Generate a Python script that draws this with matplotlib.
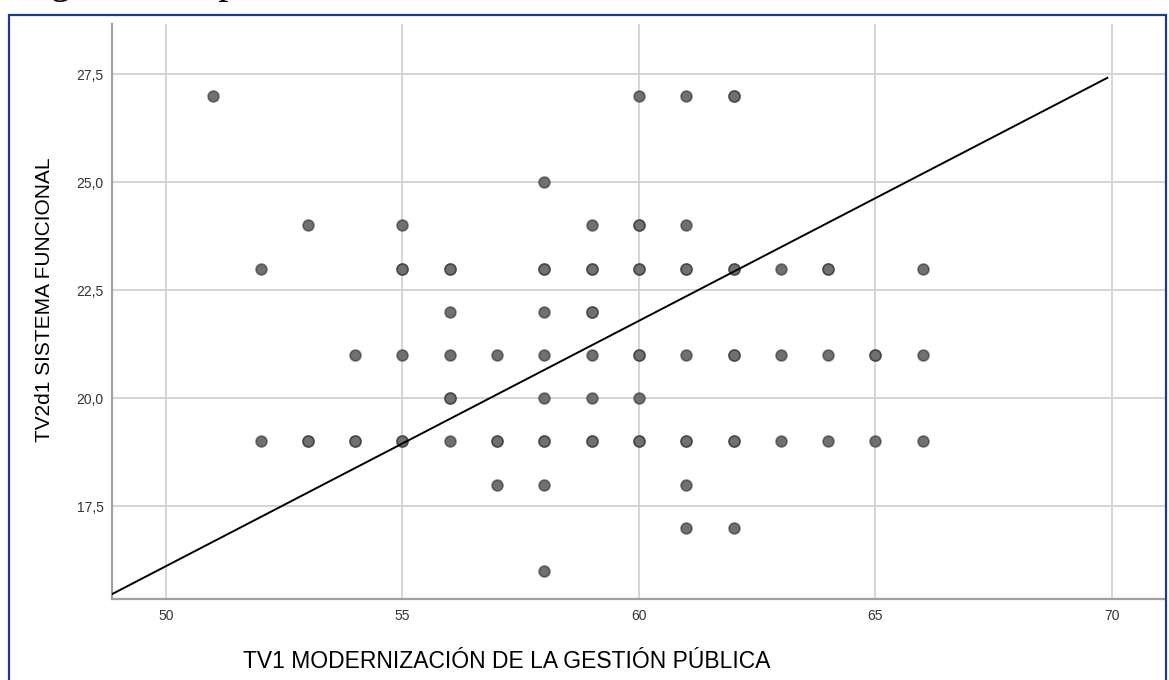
import numpy as np
import matplotlib
matplotlib.use("Agg")
import matplotlib.pyplot as plt
from matplotlib.patches import Rectangle
from matplotlib.ticker import FuncFormatter

# Data: one row per y value, x values of the dots,
# and how many cases sit on each dot (darker dots = overlapping cases)
row_y = [27, 25, 24, 23, 22, 21, 20, 19, 18, 17, 16]
row_x = [
    [51, 60, 61, 62],
    [58],
    [53, 55, 59, 60, 61],
    [52, 55, 56, 58, 59, 60, 61, 62, 63, 64, 66],
    [56, 58, 59],
    [54, 55, 56, 57, 58, 59, 60, 61, 62, 63, 64, 65, 66],
    [56, 58, 59, 60],
    [52, 53, 54, 55, 56, 57, 58, 59, 60, 61, 62, 63, 64, 65, 66],
    [57, 58, 61],
    [61, 62],
    [58],
]
row_n = [
    [1, 1, 1, 2],
    [1],
    [1, 1, 1, 2, 1],
    [1, 2, 2, 2, 2, 2, 2, 2, 1, 2, 1],
    [1, 1, 2],
    [1, 1, 1, 1, 1, 1, 2, 1, 2, 1, 1, 2, 1],
    [2, 1, 1, 1],
    [1, 2, 2, 2, 1, 2, 2, 2, 2, 2, 2, 1, 1, 1, 1],
    [1, 1, 1],
    [1, 1],
    [1],
]

# fit line (total)
fit_intercept = -12.29
fit_slope = 0.568
fit_x = [48.86, 69.9]

x_ticks = [50, 55, 60, 65, 70]
y_ticks = [17.5, 20.0, 22.5, 25.0, 27.5]

xs, ys = [], []
for yv, xr, nr in zip(row_y, row_x, row_n):
    for xv, n in zip(xr, nr):
        xs += [xv] * n
        ys += [yv] * n

W, H = 1169, 680
fig = plt.figure(figsize=(W / 100, H / 100), dpi=100)
fig.patch.set_facecolor("white")

ax = fig.add_axes([112 / W, (H - 599) / H, (1165 - 112) / W, (599 - 24) / H])
ax.set_xlim(48.86, 71.12)
ax.set_ylim(15.35, 28.66)

ax.grid(True, color="#d2d2d2", linewidth=1.3)
ax.set_axisbelow(True)

ax.scatter(xs, ys, s=62, facecolor="#707070", edgecolor=(0.15, 0.15, 0.15, 0.55),
           linewidth=1.2, zorder=3)

fx = np.array(fit_x)
ax.plot(fx, fit_intercept + fit_slope * fx, color="black", linewidth=1.4, zorder=4)

ax.set_xticks(x_ticks)
ax.set_yticks(y_ticks)
ax.yaxis.set_major_formatter(FuncFormatter(lambda v, p: f"{v:.1f}".replace(".", ",")))
ax.tick_params(length=0, labelsize=10, labelcolor="#333333")
ax.tick_params(axis="y", pad=6)
ax.tick_params(axis="x", pad=7)
for lab in ax.get_xticklabels() + ax.get_yticklabels():
    lab.set_family("Liberation Sans")

for side in ["top", "right"]:
    ax.spines[side].set_visible(False)
for side in ["left", "bottom"]:
    ax.spines[side].set_color("#a0a0a0")
    ax.spines[side].set_linewidth(1.6)

fig.text(507 / W, 1 - 661 / H, "TV1 MODERNIZACIÓN DE LA GESTIÓN PÚBLICA",
         ha="center", va="center", fontsize=16.5, family="Liberation Sans")
fig.text(45 / W, 1 - 300 / H, "TV2d1 SISTEMA FUNCIONAL", rotation=90,
         ha="center", va="center", fontsize=15, family="Liberation Sans")

# caption above the frame, only its descenders show at the top edge
fig.text(17 / W, 1 + 7.5 / H, "Figura 2 Dispersión", ha="left", va="baseline",
         fontsize=29, family="Liberation Serif")

# blue frame around the chart
fig.patches.append(Rectangle((8.5 / W, -0.02), (1166 - 8.5) / W, 1 - 15 / H + 0.02,
                             transform=fig.transFigure, fill=False,
                             edgecolor="#1f3c88", linewidth=1.6))

fig.savefig("out.png", dpi=100)
